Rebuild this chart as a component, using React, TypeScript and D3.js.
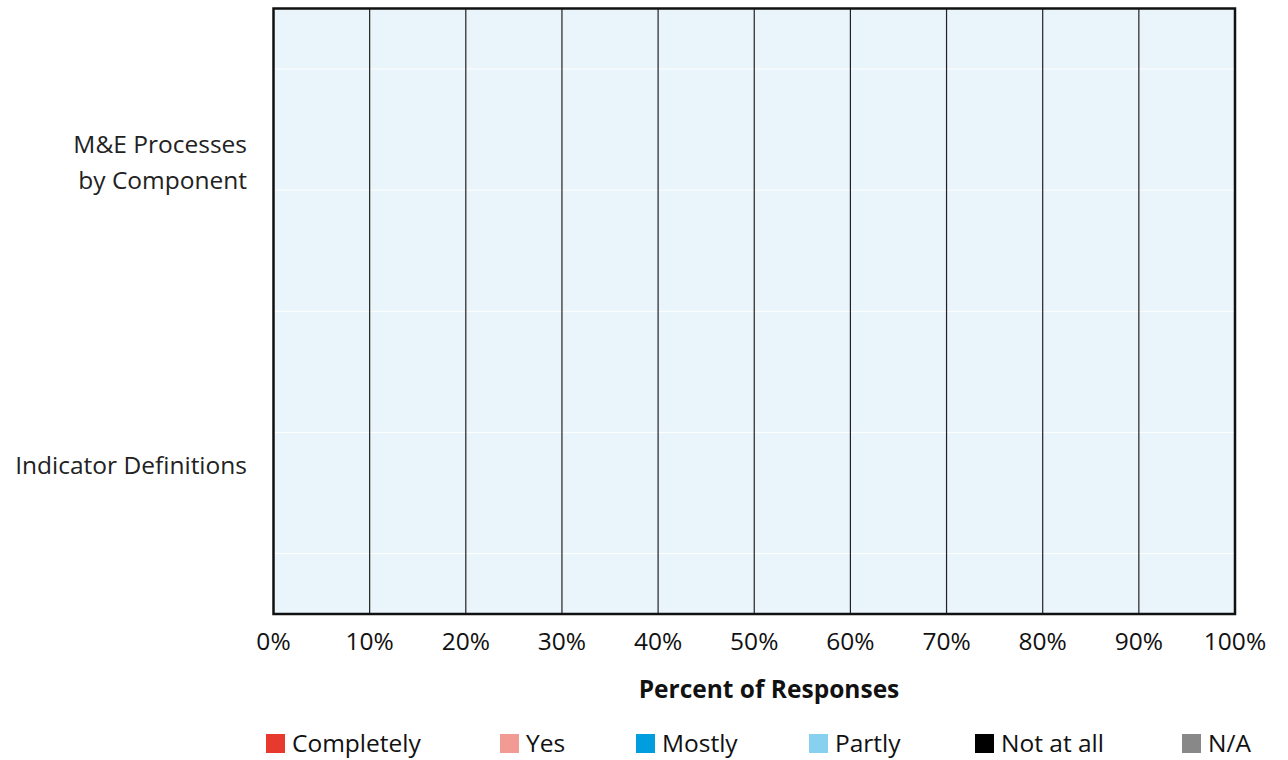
import React from "react";
import * as d3 from "d3";

const categories = ["M&E Processes by Component", "Indicator Definitions"];
const categoryLines = [["M&E Processes", "by Component"], ["Indicator Definitions"]];
const seriesNames = ["Completely", "Yes", "Mostly", "Partly", "Not at all", "N/A"];
const seriesColors = ["#e8392f", "#f29a94", "#009ddf", "#87d0f0", "#000000", "#888888"];
const completely = [0, 0];
const yes = [0, 0];
const mostly = [0, 0];
const partly = [0, 0];
const notAtAll = [0, 0];
const na = [0, 0];
const xTicks = [0, 10, 20, 30, 40, 50, 60, 70, 80, 90, 100];
const legendX = [266, 500, 636, 809, 975, 1182];

const W = 1288, H = 760;
const left = 273.5, right = 1235, top = 8.5, bottom = 614;
const FONT = "'Open Sans', sans-serif";
const FS = 24.5;

export default function App() {
  const x = d3.scaleLinear().domain([0, 100]).range([left, right]);
  const y = d3.scaleBand().domain(categories).range([top, bottom]).paddingInner(0.3).paddingOuter(0.15);
  const yGrid = d3.scaleLinear().domain([0, 5]).range([top, bottom]);
  const series = [completely, yes, mostly, partly, notAtAll, na];
  const stacked = categories.map((c, i) => {
    let acc = 0;
    return series.map((s, k) => {
      const x0 = acc;
      acc += s[i];
      return { k, x0, x1: acc };
    });
  });
  return (
    <svg width={W} height={H} style={{ position: "absolute", left: 0, top: 0 }}>
      <rect x={left} y={top} width={right - left} height={bottom - top} fill="#e9f4fb" />
      {[0.5, 1.5, 2.5, 3.5, 4.5].map((t) => (
        <line key={t} x1={left} x2={right} y1={yGrid(t)} y2={yGrid(t)} stroke="#ffffff" strokeWidth={1} />
      ))}
      {xTicks.slice(1, -1).map((t) => (
        <line key={t} x1={x(t)} x2={x(t)} y1={top} y2={bottom} stroke="#222" strokeWidth={1.2} />
      ))}
      {categories.map((c, i) =>
        stacked[i].map((d) => (
          <rect key={c + d.k} x={x(d.x0)} width={x(d.x1) - x(d.x0)} y={y(c)!} height={y.bandwidth()} fill={seriesColors[d.k]} />
        ))
      )}
      <rect x={left} y={top} width={right - left} height={bottom - top} fill="none" stroke="#111" strokeWidth={2.5} />
      {xTicks.map((t) => (
        <text key={t} x={x(t)} y={650} textAnchor="middle" fontFamily={FONT} fontSize={FS} fill="#111">{t}%</text>
      ))}
      <text x={769} y={698} textAnchor="middle" fontFamily={FONT} fontSize={FS} fontWeight="700" fill="#111">Percent of Responses</text>
      {categories.map((c, i) => {
        const lines = categoryLines[i];
        const cy = y(c)! + y.bandwidth() / 2 + 11;
        return (
          <text key={c} textAnchor="end" fontFamily={FONT} fontSize={FS} fill="#222">
            {lines.map((l, j) => (
              <tspan key={j} x={247} y={cy + (j - (lines.length - 1) / 2) * 36}>{l}</tspan>
            ))}
          </text>
        );
      })}
      {seriesNames.map((s, k) => (
        <g key={s}>
          <rect x={legendX[k]} y={734} width={19} height={19} fill={seriesColors[k]} />
          <text x={legendX[k] + 26} y={752} fontFamily={FONT} fontSize={FS} fill="#111">{s}</text>
        </g>
      ))}
    </svg>
  );
}
